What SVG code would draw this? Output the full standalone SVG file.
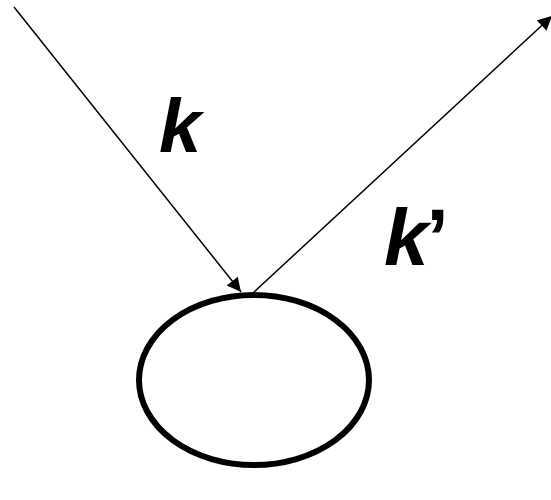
<svg xmlns="http://www.w3.org/2000/svg" width="551" height="500" viewBox="0 0 551 500">
<style>
.lbl{font-family:"Liberation Sans",Arial,sans-serif;font-weight:bold;font-style:italic;fill:#000}
.up{font-style:normal}
.ray{stroke:#000;stroke-width:1.5;fill:none}
</style>
<defs>
<marker id="ah" viewBox="0 0 10 10" refX="10" refY="5" markerWidth="16" markerHeight="14" markerUnits="userSpaceOnUse" orient="auto"><path d="M0,0 L10,5 L0,10 z" fill="#000"/></marker>
</defs>
<g id="particle"><ellipse cx="254" cy="380" rx="115" ry="85" fill="none" stroke="#000" stroke-width="6"/></g>
<g id="connectors">
<line class="ray" x1="14" y1="7" x2="241" y2="292" marker-end="url(#ah)"/>
<line class="ray" x1="253" y1="293" x2="552" y2="16" marker-end="url(#ah)"/>
</g>
<g id="labels">
<text class="lbl" x="159" y="152" font-size="76">k</text>
<text class="lbl" x="384" y="265" font-size="80">k<tspan class="up" dx="-2">’</tspan></text>
</g>
</svg>
